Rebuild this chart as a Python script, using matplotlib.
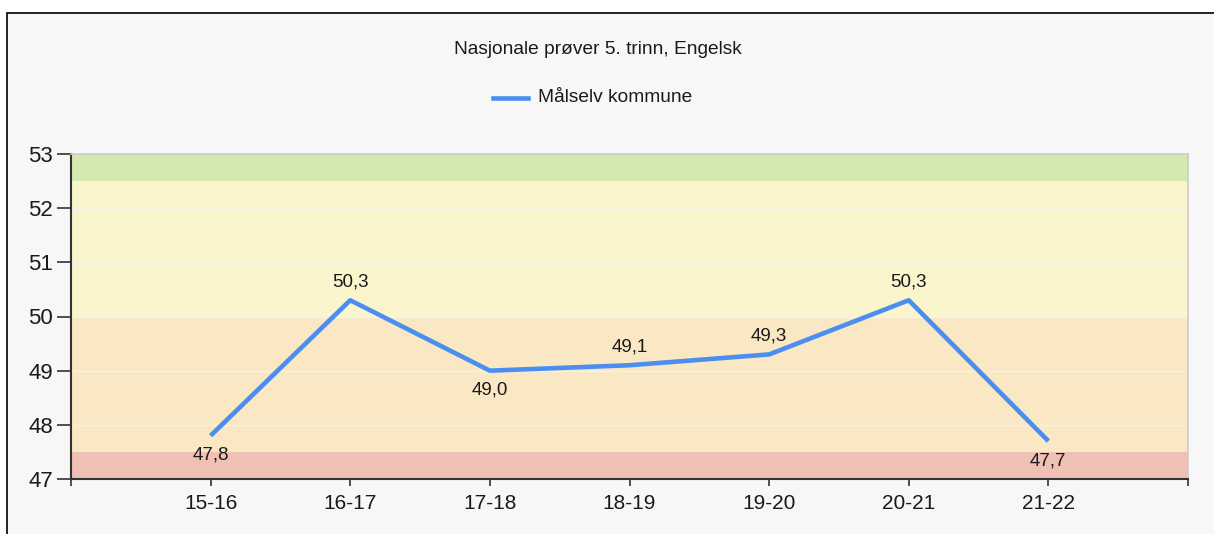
import matplotlib.pyplot as plt
from matplotlib.patches import Rectangle
from matplotlib.lines import Line2D

# Data
years = ['15-16', '16-17', '17-18', '18-19', '19-20', '20-21', '21-22']
values = [47.8, 50.3, 49.0, 49.1, 49.3, 50.3, 47.7]
label_above = [False, True, False, True, True, True, False]
bands = [(47.0, 47.5, '#f0c0b4'), (47.5, 50.0, '#fae8c4'),
         (50.0, 52.5, '#faf5cd'), (52.5, 53.0, '#d4e9b0')]

W, H = 1214, 534
plt.rcParams['font.family'] = ['Liberation Sans', 'DejaVu Sans']

fig = plt.figure(figsize=(W / 100, H / 100), dpi=100)
fig.patch.set_facecolor('white')

# outer chart frame
fig.patches.append(Rectangle((7 / W, -0.1), 1.2, (534 - 13) / H + 0.1,
                             transform=fig.transFigure, facecolor='#f7f7f7',
                             edgecolor='black', linewidth=1.2, zorder=-5))

ax = fig.add_axes([71 / W, (534 - 479) / H, (1188 - 71) / W, (479 - 154) / H])
ax.set_zorder(2)
ax.set_facecolor('white')

for lo, hi, c in bands:
    ax.axhspan(lo, hi, color=c, zorder=0, lw=0)
for yv in range(48, 53):
    ax.axhline(yv, color='#f2f2ee', lw=1, zorder=1)

x = list(range(1, len(years) + 1))
ax.plot(x, values, color='#4a8ff0', lw=3.3, zorder=3, solid_capstyle='butt')

for xi, v, up in zip(x, values, label_above):
    lbl = f'{v:.1f}'.replace('.', ',')
    if up:
        ax.annotate(lbl, (xi, v), xytext=(0, 7), textcoords='offset points',
                    ha='center', va='bottom', fontsize=13.5, color='#1a1a1a')
    else:
        ax.annotate(lbl, (xi, v), xytext=(0, -8), textcoords='offset points',
                    ha='center', va='top', fontsize=13.5, color='#1a1a1a')

ax.set_xlim(0, 8)
ax.set_ylim(47, 53)
ax.set_xticks([0] + x + [8])
ax.set_xticklabels([''] + years + [''], fontsize=15, color='#1a1a1a')
ax.set_yticks(range(47, 54))
ax.set_yticklabels([str(v) for v in range(47, 54)], fontsize=16, color='#1a1a1a')
ax.tick_params(axis='x', direction='out', length=5, width=1.2, color='#333333', pad=6)
ax.tick_params(axis='y', direction='out', length=10, width=1.2, color='#333333', pad=3)

for s in ['left', 'bottom']:
    ax.spines[s].set_color('#333333')
    ax.spines[s].set_linewidth(1.5)
for s in ['top', 'right']:
    ax.spines[s].set_color('#cccccc')
    ax.spines[s].set_linewidth(1.2)

fig.text(598 / W, 1 - 50 / H, 'Nasjonale prøver 5. trinn, Engelsk',
         ha='center', va='center', fontsize=13.8, color='#1a1a1a')

# legend
fig.add_artist(Line2D([493 / W, 528 / W], [1 - 98 / H, 1 - 98 / H],
                      color='#4a8ff0', lw=3.3, transform=fig.transFigure))
fig.text(538 / W, 1 - 98 / H, 'Målselv kommune', ha='left', va='center',
         fontsize=13.8, color='#1a1a1a')

plt.savefig('out.png', dpi=100)
